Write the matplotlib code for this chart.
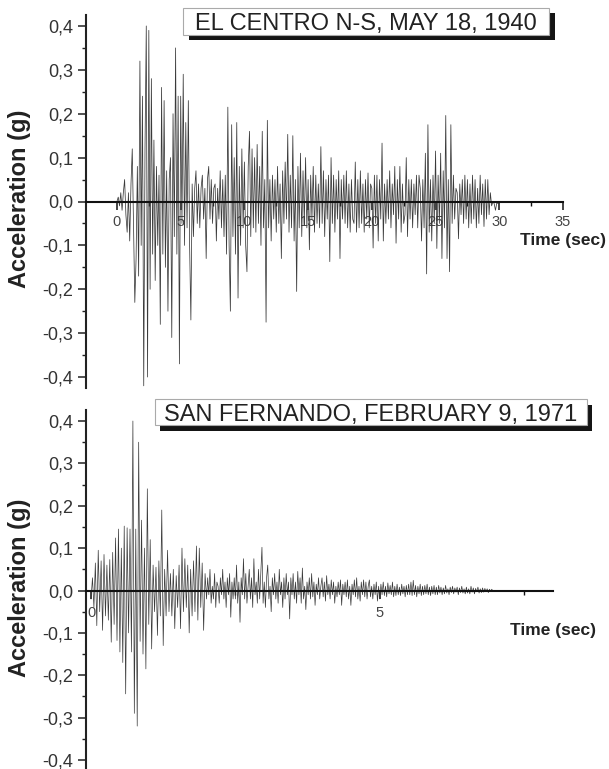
import numpy as np
import matplotlib
matplotlib.use('Agg')
import matplotlib.pyplot as plt
from matplotlib.ticker import MultipleLocator, FixedLocator, FuncFormatter
from matplotlib.patches import Rectangle

plt.rcParams['font.family'] = ['Liberation Sans', 'DejaVu Sans']

# ---------------- data ----------------
elcentro_dt = 0.1
elcentro_acc = [
    0.00, 0.01, -0.01, 0.02, -0.02, 0.02, 0.05, -0.03, -0.07, 0.02,
    -0.09, 0.04, 0.12, -0.05, -0.23, -0.13, 0.08, -0.17, 0.32, -0.10,
    0.24, -0.42, 0.12, 0.40, -0.40, 0.39, -0.20, 0.28, -0.12, 0.14,
    -0.18, 0.08, -0.10, 0.06, -0.28, 0.26, -0.12, 0.23, -0.15, 0.07,
    -0.25, 0.05, 0.10, -0.31, 0.20, -0.08, 0.35, -0.12, 0.24, -0.37,
    0.24, -0.05, 0.29, -0.10, 0.18, -0.06, 0.23, -0.10, -0.27, 0.04,
    -0.08, 0.03, 0.07, -0.05, 0.04, -0.06, 0.03, 0.06, -0.04, 0.03,
    -0.13, 0.05, 0.08, -0.04, 0.05, -0.05, 0.03, 0.04, -0.09, 0.03,
    -0.04, 0.07, -0.06, 0.05, -0.08, 0.06, -0.12, 0.215, -0.10, -0.25,
    0.175, -0.08, 0.10, -0.12, 0.18, -0.22, 0.08, -0.10, 0.12, -0.06,
    0.09, -0.10, -0.16, 0.08, 0.16, -0.08, 0.12, -0.06, 0.10, -0.07,
    0.13, -0.05, 0.08, -0.10, 0.16, -0.06, 0.05, -0.275, 0.185, -0.06,
    0.05, -0.09, 0.06, -0.04, 0.05, -0.07, 0.08, -0.05, 0.04, -0.13,
    0.07, -0.05, 0.09, -0.04, 0.153, -0.07, 0.06, -0.06, 0.15, -0.09,
    0.05, -0.205, 0.08, -0.06, 0.11, -0.08, 0.07, -0.05, 0.10, -0.06,
    0.05, -0.11, 0.06, -0.04, 0.08, -0.07, 0.06, -0.05, 0.04, -0.06,
    0.125, -0.05, 0.07, -0.08, 0.05, -0.04, 0.06, -0.137, 0.10, -0.05,
    0.06, -0.07, 0.05, -0.04, 0.07, -0.13, 0.05, -0.04, 0.06, -0.05,
    0.07, -0.06, 0.04, -0.07, 0.05, -0.04, -0.05, 0.09, -0.07, 0.05,
    -0.06, 0.07, -0.05, 0.04, -0.07, 0.05, -0.04, 0.065, -0.06, 0.04,
    0.03, -0.106, 0.06, -0.05, 0.06, -0.09, 0.05, -0.04, 0.133, -0.09,
    0.04, -0.05, 0.05, -0.04, 0.07, -0.06, 0.04, -0.03, 0.08, -0.095,
    0.05, -0.04, 0.08, -0.07, 0.04, -0.05, -0.03, 0.10, -0.08, 0.05,
    -0.04, 0.05, -0.06, 0.04, -0.03, 0.06, -0.06, 0.06, 0.03, -0.09,
    0.05, -0.06, 0.11, -0.165, 0.175, -0.07, 0.05, -0.09, 0.06, -0.05,
    0.115, -0.107, 0.06, -0.05, 0.11, -0.13, 0.07, -0.06, 0.196, -0.13,
    0.05, -0.16, 0.175, -0.05, 0.06, -0.04, 0.03, 0.02, -0.085, 0.04,
    -0.03, 0.05, -0.05, 0.06, -0.04, 0.05, -0.06, 0.04, -0.05, 0.06,
    -0.04, 0.05, -0.06, 0.03, -0.05, 0.06, -0.03, 0.04, -0.057, 0.05,
    -0.04, 0.05, -0.03, 0.02, -0.01, 0.00, -0.005, -0.02, -0.004, -0.004,
    -0.004, 0.0,
]

# San Fernando 1971: strong part sampled every 0.025 s, coda every 0.02 s
sanfer_dt1 = 0.025
sanfer_acc1 = [
    -0.02, 0.03, -0.04, 0.065, -0.083, 0.095, -0.05, 0.07, -0.094, 0.085,
    -0.06, 0.06, -0.07, 0.073, -0.122, 0.09, -0.08, 0.124, -0.118, 0.145,
    -0.145, 0.10, -0.17, 0.152, -0.244, 0.148, -0.10, 0.145, -0.145, 0.40,
    -0.29, 0.145, -0.32, 0.35, -0.12, 0.166, -0.15, 0.10, -0.185, 0.24,
    -0.08, 0.12, -0.138, 0.06, -0.05, 0.055, -0.106, 0.07, -0.06, 0.19,
    -0.13, 0.05, -0.06, 0.095, -0.05, 0.04, -0.06, 0.05, -0.09, 0.035,
    -0.04, 0.06, -0.09, 0.10, -0.05, 0.075, -0.04, 0.06, -0.10, 0.05,
    -0.06, 0.07, -0.05, 0.105, -0.07, 0.10, -0.04, 0.065, -0.094, 0.04,
]
sanfer_t2_start = 2.0
sanfer_dt2 = 0.02
sanfer_acc2 = [
    -0.02, 0.03, -0.01, 0.05, -0.03, 0.01, -0.02, 0.04, -0.04, 0.02,
    0.01, -0.03, 0.03, -0.01, 0.05, -0.02, 0.02, -0.04, 0.03, -0.01,
    0.04, -0.063, 0.02, -0.02, 0.03,
    -0.02, 0.06, -0.03, 0.02, -0.075, 0.03, -0.01, 0.075, -0.02, 0.04,
    -0.03, 0.01, 0.05, -0.02, 0.03, -0.04, 0.075, -0.01, 0.02, -0.03,
    0.05, -0.02, 0.04, 0.102, -0.03,
    0.02, -0.04, 0.03, 0.06, -0.02, 0.01, -0.05, 0.03, -0.01, 0.04,
    -0.02, 0.02, -0.03, 0.05, -0.01, 0.02, -0.04, 0.03, -0.02, 0.04,
    -0.01, 0.02, -0.067, 0.03, -0.01,
    0.04, -0.02, 0.02, -0.03, 0.045, -0.01, 0.03, -0.03, 0.053, -0.02,
    0.01, -0.045, 0.02, -0.01, 0.03, -0.02, 0.04, -0.015, 0.02, -0.035,
    0.015, -0.01, 0.03, -0.02, 0.01,
    0.03, -0.015, 0.02, -0.025, 0.035, -0.01, 0.015, -0.02, 0.025, -0.01,
    0.02, -0.03, 0.01, -0.015, 0.02, -0.01, 0.025, -0.035, 0.015, -0.01,
    0.02, -0.015, 0.025, -0.02, 0.01,
    -0.035, 0.015, -0.01, 0.025, -0.015, 0.03, -0.02, 0.01, -0.025, 0.02,
    -0.01, 0.025, -0.015, 0.02, -0.02, 0.01, 0.025, -0.015, 0.01, -0.02,
    0.015, -0.01, 0.02, -0.025, 0.01,
    -0.02, 0.015, -0.01, 0.02, -0.012, 0.01, -0.015, 0.018, -0.008, 0.012,
    -0.01, 0.02, -0.015, 0.01, -0.012, 0.015, -0.01, 0.008, -0.012, 0.015,
    -0.008, 0.01, -0.015, 0.012, -0.01,
    0.015, -0.01, 0.02, -0.012, 0.024, -0.01, 0.012, -0.015, 0.01, -0.008,
    0.015, -0.012, 0.01, -0.01, 0.012, -0.008, 0.015, -0.01, 0.008, -0.012,
    0.01, -0.008, 0.012, -0.01, 0.008,
    -0.01, 0.012, -0.006, 0.008, -0.01, 0.006, -0.008, 0.012, -0.006, 0.004,
    -0.01, 0.008, -0.005, 0.01, -0.008, 0.006, -0.004, 0.008, -0.01, 0.006,
    -0.005, 0.01, -0.006, 0.004, -0.008,
    0.008, -0.006, 0.004, -0.008, 0.01, -0.004, 0.006, -0.008, 0.005, -0.003,
    0.008, -0.006, 0.004, -0.005, 0.006, -0.004, 0.005, -0.003, 0.004, -0.005,
    0.003, -0.002, 0.003, -0.002, 0.0,
]

titles = ["EL CENTRO N-S, MAY 18, 1940", "SAN FERNANDO, FEBRUARY 9, 1971"]
ylabel = "Acceleration (g)"
xlabel = "Time (sec)"

# ---------------- figure ----------------
W, H = 609, 769
fig = plt.figure(figsize=(W / 100, H / 100), dpi=100)


def fx(px):
    return px / W


def fy(py):
    return 1 - py / H


ax1 = fig.add_axes([fx(86), fy(388), fx(563) - fx(86), fy(15) - fy(388)])
ax2 = fig.add_axes([fx(86), fy(771), fx(553) - fx(86), fy(410) - fy(771)])

t1 = np.arange(len(elcentro_acc)) * elcentro_dt
ax1.plot(t1, elcentro_acc, color='#3a3a3a', lw=0.55, zorder=2)

t2a = np.arange(len(sanfer_acc1)) * sanfer_dt1
t2b = sanfer_t2_start + np.arange(len(sanfer_acc2)) * sanfer_dt2
ax2.plot(np.concatenate([t2a, t2b]), sanfer_acc1 + sanfer_acc2,
         color='#3a3a3a', lw=0.5, zorder=2)


def yfmt(v, pos):
    if abs(v) < 1e-9:
        return "0,0"
    return f"{v:.1f}".replace('.', ',')


def style(ax, xlim, ylim, xmajor, xminor, xpad):
    ax.set_xlim(*xlim)
    ax.set_ylim(*ylim)
    for s in ('top', 'right'):
        ax.spines[s].set_visible(False)
    ax.spines['bottom'].set_position(('data', 0))
    ax.spines['bottom'].set_linewidth(1.5)
    ax.spines['left'].set_linewidth(1.5)
    ax.spines['bottom'].set_color('#111')
    ax.spines['left'].set_color('#222')
    ax.spines['bottom'].set_zorder(3)
    ax.yaxis.set_major_locator(MultipleLocator(0.1))
    ax.yaxis.set_minor_locator(MultipleLocator(0.05))
    ax.yaxis.set_major_formatter(FuncFormatter(yfmt))
    ax.xaxis.set_major_locator(FixedLocator(xmajor))
    ax.xaxis.set_minor_locator(FixedLocator(xminor))
    ax.tick_params(axis='y', which='major', direction='out', length=6,
                   width=1.1, labelsize=13, labelcolor='#333', pad=3,
                   color='#222')
    ax.tick_params(axis='y', which='minor', direction='out', length=3,
                   width=1.0, color='#222')
    ax.tick_params(axis='x', which='major', direction='out', length=6,
                   width=1.1, labelsize=10.5, labelcolor='#444', pad=xpad,
                   color='#111')
    ax.tick_params(axis='x', which='minor', direction='out', length=3,
                   width=1.0, color='#111')
    ax.patch.set_alpha(0)


style(ax1, (-2.43, 35), (-0.425, 0.425), [0, 5, 10, 15, 20, 25, 30, 35],
      [2.5, 7.5, 12.5, 17.5, 22.5, 27.5, 32.5], 4.0)
style(ax2, (-0.087, 8.0), (-0.426, 0.426), [0, 5], [2.5, 7.5], 5.0)

# axis labels
fig.text(fx(20), fy(199), ylabel, rotation=90, ha='center', va='center',
         fontsize=17, fontweight='bold', color='#222')
fig.text(fx(20), fy(588), ylabel, rotation=90, ha='center', va='center',
         fontsize=17, fontweight='bold', color='#222')
fig.text(fx(606), fy(241), xlabel, ha='right', va='center',
         fontsize=12.5, fontweight='bold', color='#222')
fig.text(fx(596), fy(630), xlabel, ha='right', va='center',
         fontsize=12.5, fontweight='bold', color='#222')


def title_box(x0, y0, x1, y1, dx, dy, text, baseline):
    fig.patches.append(Rectangle((fx(x0 + dx), fy(y1 + dy)), (x1 - x0) / W,
                                 (y1 - y0) / H, transform=fig.transFigure,
                                 facecolor='#151515', edgecolor='none',
                                 zorder=5))
    fig.patches.append(Rectangle((fx(x0), fy(y1)), (x1 - x0) / W,
                                 (y1 - y0) / H, transform=fig.transFigure,
                                 facecolor='white', edgecolor='#aaaaaa',
                                 lw=0.8, zorder=5.5))
    fig.text(fx((x0 + x1) / 2), fy(baseline), text, ha='center',
             va='baseline', fontsize=17, color='#222', zorder=6)


title_box(183, 8, 549, 35, 6, 5, titles[0], 30)
title_box(155, 399, 587, 425, 5, 6, titles[1], 421)

fig.savefig('out.png', dpi=100)
